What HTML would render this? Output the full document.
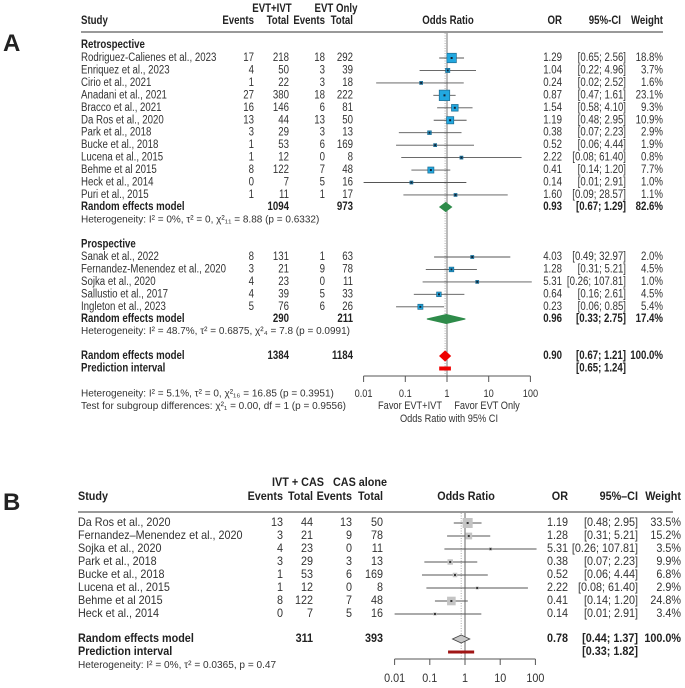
<!DOCTYPE html>
<html><head><meta charset="utf-8"><style>
body{margin:0;background:#fff;}
svg{display:block;font-family:"Liberation Sans",Arial,sans-serif;}
text{fill:#333;}
.b{font-weight:bold;fill:#222;}
</style></head><body>
<svg id="chart" width="685" height="688" viewBox="0 0 685 688" xmlns="http://www.w3.org/2000/svg">
<text x="3" y="51" font-size="24" class="b">A</text>
<text x="3" y="510" font-size="24" class="b">B</text>
<g id="ga"></g>
<g id="gb"></g>
</svg>
<script>
// Panel A data
const aRetroNames=["Rodriguez-Calienes et al., 2023","Enriquez et al., 2023","Cirio et al., 2021","Anadani et al., 2021","Bracco et al., 2021","Da Ros et al., 2020","Park et al., 2018","Bucke et al., 2018","Lucena et al., 2015","Behme et al 2015","Heck et al., 2014","Puri et al., 2015"];
const aRetroE1=[17,4,1,27,16,13,3,1,1,8,0,1];
const aRetroN1=[218,50,22,380,146,44,29,53,12,122,7,11];
const aRetroE2=[18,3,3,18,6,13,3,6,0,7,5,1];
const aRetroN2=[292,39,18,222,81,50,13,169,8,48,16,17];
const aRetroOR=[1.29,1.04,0.24,0.87,1.54,1.19,0.38,0.52,2.22,0.41,0.14,1.60];
const aRetroLo=[0.65,0.22,0.02,0.47,0.58,0.48,0.07,0.06,0.08,0.14,0.01,0.09];
const aRetroHi=[2.56,4.96,2.52,1.61,4.10,2.95,2.23,4.44,61.40,1.20,2.91,28.57];
const aRetroW=[18.8,3.7,1.6,23.1,9.3,10.9,2.9,1.9,0.8,7.7,1.0,1.1];
const aProNames=["Sanak et al., 2022","Fernandez-Menendez et al., 2020","Sojka et al., 2020","Sallustio et al., 2017","Ingleton et al., 2023"];
const aProE1=[8,3,4,4,5];
const aProN1=[131,21,23,39,76];
const aProE2=[1,9,0,5,6];
const aProN2=[63,78,11,33,26];
const aProOR=[4.03,1.28,5.31,0.64,0.23];
const aProLo=[0.49,0.31,0.26,0.16,0.06];
const aProHi=[32.97,5.21,107.81,2.61,0.85];
const aProW=[2.0,4.5,1.0,4.5,5.4];
// summaries: retro, pro, overall
const aSumOR=[0.93,0.96,0.90];
const aSumLo=[0.67,0.33,0.67];
const aSumHi=[1.29,2.75,1.21];
const aSumW=["82.6%","17.4%","100.0%"];
const aPred=[0.65,1.24];
const aTicks=[0.01,0.1,1,10,100];
const aTickLabels=["0.01","0.1","1","10","100"];
// Panel B data
const bNames=["Da Ros et al., 2020","Fernandez\u2013Menendez et al., 2020","Sojka et al., 2020","Park et al., 2018","Bucke et al., 2018","Lucena et al., 2015","Behme et al 2015","Heck et al., 2014"];
const bE1=[13,3,4,3,1,1,8,0];
const bN1=[44,21,23,29,53,12,122,7];
const bE2=[13,9,0,3,6,0,7,5];
const bN2=[50,78,11,13,169,8,48,16];
const bOR=[1.19,1.28,5.31,0.38,0.52,2.22,0.41,0.14];
const bLo=[0.48,0.31,0.26,0.07,0.06,0.08,0.14,0.01];
const bHi=[2.95,5.21,107.81,2.23,4.44,61.40,1.20,2.91];
const bW=[33.5,15.2,3.5,9.9,6.8,2.9,24.8,3.4];
const bSum=[0.78,0.44,1.37];
const bPred=[0.33,1.82];
const bTicks=[0.01,0.1,1,10,100];
const bTickLabels=["0.01","0.1","1","10","100"];

const NS="http://www.w3.org/2000/svg";
let COND=0.84;
function mk(p,tag,at){const e=document.createElementNS(NS,tag);for(const k in at)e.setAttribute(k,at[k]);p.appendChild(e);return e;}
function tx(p,x,y,s,opt){opt=opt||{};const e=mk(p,"text",{x:x,y:y,"font-size":opt.fs||11.5,"text-anchor":opt.a||"start","dominant-baseline":"middle"});
if(opt.b)e.setAttribute("class","b");if(opt.pre)e.setAttribute("xml:space","preserve");e.textContent=s;
const c=opt.c!==undefined?opt.c:COND;
if(c!==1){const w=e.getComputedTextLength();if(w>0){e.setAttribute("textLength",(w*c).toFixed(2));e.setAttribute("lengthAdjust","spacingAndGlyphs");}}
return e;}
const f2=v=>v.toFixed(2);
function ciStr(lo,hi){let l=f2(lo),h=f2(hi);while(h.length<5)h="  "+h;return "["+l+"; "+h+"]";}

const xA=v=>447+41.7*Math.log10(v);
const xB=v=>465+35.2*Math.log10(v);
const ga=document.getElementById("ga"),gb=document.getElementById("gb");

let t;
t=tx(ga,272,9,"EVT+IVT",{a:"middle",b:1});
t=tx(ga,336,9,"EVT Only",{a:"middle",b:1});
t=tx(ga,81,21,"Study",{b:1});
[["Events",254],["Total",289],["Events",325],["Total",353]].forEach(h=>{const e=tx(ga,h[1],21,h[0],{a:"end",b:1});});
t=tx(ga,448,21,"Odds Ratio",{a:"middle",b:1});
t=tx(ga,562,21,"OR",{a:"end",b:1});
t=tx(ga,621,21,"95%-CI",{a:"end",b:1});
t=tx(ga,663,21,"Weight",{a:"end",b:1});
let l=mk(ga,"line",{x1:81,x2:663,y1:32,y2:32,stroke:"#999","stroke-width":2});


l=mk(ga,"line",{x1:xA(1),x2:xA(1),y1:33,y2:376,stroke:"#777","stroke-width":1});

l=mk(ga,"line",{x1:xA(aSumOR[2]),x2:xA(aSumOR[2]),y1:33,y2:376,stroke:"#aaa","stroke-width":1,"stroke-dasharray":"1,1.5"});


function studyRowA(y,name,e1,n1,e2,n2,or,lo,hi,w){
  const g=mk(ga,"g",{});
  
  
  tx(g,81,y,name);tx(g,254,y,e1,{a:"end"});tx(g,289,y,n1,{a:"end"});tx(g,325,y,e2,{a:"end"});tx(g,353,y,n2,{a:"end"});
  mk(g,"line",{x1:xA(lo),x2:xA(hi),y1:y,y2:y,stroke:"#555","stroke-width":0.9});
  const s=Math.max(3,10.5*Math.sqrt(w/23.1));const cx=xA(or);
  const sq=mk(g,"rect",{x:cx-s/2,y:y-s/2,width:s,height:s,fill:"#22a8e0",stroke:"#1d6a90","stroke-width":0.7});
  
  
  mk(g,"rect",{x:cx-1,y:y-1,width:2,height:2,fill:"#123"});
  tx(g,562,y,f2(or),{a:"end"});tx(g,626,y,ciStr(lo,hi),{a:"end",pre:1});tx(g,663,y,w.toFixed(1)+"%",{a:"end"});
}
function diamondA(y,i,color,h,name){
  const x1=xA(aSumLo[i]),x2=xA(aSumHi[i]),xm=xA(aSumOR[i]);
  const d=mk(ga,"polygon",{points:`${x1},${y} ${xm},${y-h} ${x2},${y} ${xm},${y+h}`,fill:color,stroke:color});
  
  
  tx(ga,562,y,f2(aSumOR[i]),{a:"end",b:1});tx(ga,626,y,ciStr(aSumLo[i],aSumHi[i]),{a:"end",b:1,pre:1});tx(ga,663,y,aSumW[i],{a:"end",b:1});
}
t=tx(ga,81,45,"Retrospective",{b:1});
aRetroNames.forEach((n,i)=>studyRowA(58+i*12.45,n,aRetroE1[i],aRetroN1[i],aRetroE2[i],aRetroN2[i],aRetroOR[i],aRetroLo[i],aRetroHi[i],aRetroW[i]));
tx(ga,81,207,"Random effects model",{b:1});tx(ga,289,207,"1094",{a:"end",b:1});tx(ga,353,207,"973",{a:"end",b:1});
diamondA(207,0,"#2e8b4a",4.5,"retrospective-diamond");
tx(ga,81,220,"Heterogeneity: I² = 0%, τ² = 0, χ²₁₁ = 8.88 (p = 0.6332)",{fs:10,c:1});
t=tx(ga,81,244.5,"Prospective",{b:1});
aProNames.forEach((n,i)=>studyRowA(257+i*12.45,n,aProE1[i],aProN1[i],aProE2[i],aProN2[i],aProOR[i],aProLo[i],aProHi[i],aProW[i]));
tx(ga,81,319,"Random effects model",{b:1});tx(ga,289,319,"290",{a:"end",b:1});tx(ga,353,319,"211",{a:"end",b:1});
diamondA(319,1,"#2e8b4a",4.5,"prospective-diamond");
tx(ga,81,331.5,"Heterogeneity: I² = 48.7%, τ² = 0.6875, χ²₄ = 7.8 (p = 0.0991)",{fs:10,c:1});
tx(ga,81,356,"Random effects model",{b:1});tx(ga,289,356,"1384",{a:"end",b:1});tx(ga,353,356,"1184",{a:"end",b:1});
diamondA(356,2,"#ee0000",5,"overall-diamond");
tx(ga,81,368.5,"Prediction interval",{b:1});
l=mk(ga,"rect",{x:xA(aPred[0]),y:366.5,width:xA(aPred[1])-xA(aPred[0]),height:4,fill:"#ee0000"});

tx(ga,626,368.5,"["+f2(aPred[0])+";  "+f2(aPred[1])+"]",{a:"end",b:1,pre:1});
l=mk(ga,"line",{x1:xA(aTicks[0]),x2:xA(aTicks[aTicks.length-1]),y1:376,y2:376,stroke:"#555"});

aTicks.forEach((v,i)=>{mk(ga,"line",{x1:xA(v),x2:xA(v),y1:376,y2:382,stroke:"#555"});
  const e=tx(ga,xA(v),394,aTickLabels[i],{a:"middle",fs:11});});
tx(ga,410,406,"Favor EVT+IVT",{a:"middle",fs:11});tx(ga,487,406,"Favor EVT Only",{a:"middle",fs:11});
t=tx(ga,449,419,"Odds Ratio with 95% CI",{a:"middle",fs:11});
tx(ga,81,394,"Heterogeneity: I² = 5.1%, τ² = 0, χ²₁₆ = 16.85 (p = 0.3951)",{fs:10,c:1});
tx(ga,81,406.5,"Test for subgroup differences: χ²₁ = 0.00, df = 1 (p = 0.9556)",{fs:10,c:1});

// ---- Panel B
COND=0.9;
t=tx(gb,298,483,"IVT + CAS",{a:"middle",b:1,fs:12});
t=tx(gb,360,483,"CAS alone",{a:"middle",b:1,fs:12});
tx(gb,78,497,"Study",{b:1,fs:12});
[["Events",283],["Total",313],["Events",352],["Total",383]].forEach(h=>{const e=tx(gb,h[1],497,h[0],{a:"end",b:1,fs:12});});
tx(gb,466,497,"Odds Ratio",{a:"middle",b:1,fs:12});tx(gb,568,497,"OR",{a:"end",b:1,fs:12});
tx(gb,638,497,"95%\u2013CI",{a:"end",b:1,fs:12});tx(gb,681,497,"Weight",{a:"end",b:1,fs:12});
l=mk(gb,"line",{x1:78,x2:673,y1:512,y2:512,stroke:"#999","stroke-width":2});

l=mk(gb,"line",{x1:xB(1),x2:xB(1),y1:513,y2:659,stroke:"#666"});

l=mk(gb,"line",{x1:xB(bSum[0]),x2:xB(bSum[0]),y1:513,y2:659,stroke:"#aaa","stroke-dasharray":"1,1.5"});

bNames.forEach((n,i)=>{
  const y=523+i*13;const g=mk(gb,"g",{});
  
  
  tx(g,78,y,n,{fs:12});tx(g,283,y,bE1[i],{a:"end",fs:12});tx(g,313,y,bN1[i],{a:"end",fs:12});tx(g,352,y,bE2[i],{a:"end",fs:12});tx(g,383,y,bN2[i],{a:"end",fs:12});
  mk(g,"line",{x1:xB(bLo[i]),x2:xB(bHi[i]),y1:y,y2:y,stroke:"#555","stroke-width":0.9});
  const s=Math.max(2.5,10*Math.sqrt(bW[i]/33.5)),cx=xB(bOR[i]);
  const sq=mk(g,"rect",{x:cx-s/2,y:y-s/2,width:s,height:s,fill:"#c4c4c4"});
  
  
  mk(g,"rect",{x:cx-1,y:y-1,width:2,height:2,fill:"#333"});
  tx(g,568,y,f2(bOR[i]),{a:"end",fs:12});tx(g,638,y,ciStr(bLo[i],bHi[i]),{a:"end",pre:1,fs:12});tx(g,681,y,bW[i].toFixed(1)+"%",{a:"end",fs:12});
});
tx(gb,78,639,"Random effects model",{b:1,fs:12});tx(gb,313,639,"311",{a:"end",b:1,fs:12});tx(gb,383,639,"393",{a:"end",b:1,fs:12});
{const x1=xB(bSum[1]),x2=xB(bSum[2]),xm=xB(bSum[0]);
 const d=mk(gb,"polygon",{points:`${x1},639 ${xm},635 ${x2},639 ${xm},643`,fill:"#c8c8c8",stroke:"#444","stroke-width":0.8});
 }
tx(gb,568,639,f2(bSum[0]),{a:"end",b:1,fs:12});tx(gb,638,639,ciStr(bSum[1],bSum[2]),{a:"end",b:1,pre:1,fs:12});tx(gb,681,639,"100.0%",{a:"end",b:1,fs:12});
tx(gb,78,652,"Prediction interval",{b:1,fs:12});
l=mk(gb,"rect",{x:xB(bPred[0]),y:650.5,width:xB(bPred[1])-xB(bPred[0]),height:3,fill:"#a01515"});

tx(gb,638,652,"["+f2(bPred[0])+";  "+f2(bPred[1])+"]",{a:"end",b:1,pre:1,fs:12});
tx(gb,78,665,"Heterogeneity: I² = 0%, τ² = 0.0365, p = 0.47",{fs:10.5,c:0.96});
l=mk(gb,"line",{x1:xB(bTicks[0]),x2:xB(bTicks[bTicks.length-1]),y1:659,y2:659,stroke:"#555"});

bTicks.forEach((v,i)=>{mk(gb,"line",{x1:xB(v),x2:xB(v),y1:659,y2:665,stroke:"#555"});
  const e=tx(gb,xB(v),679,bTickLabels[i],{a:"middle",fs:12});});
</script>
</body></html>
